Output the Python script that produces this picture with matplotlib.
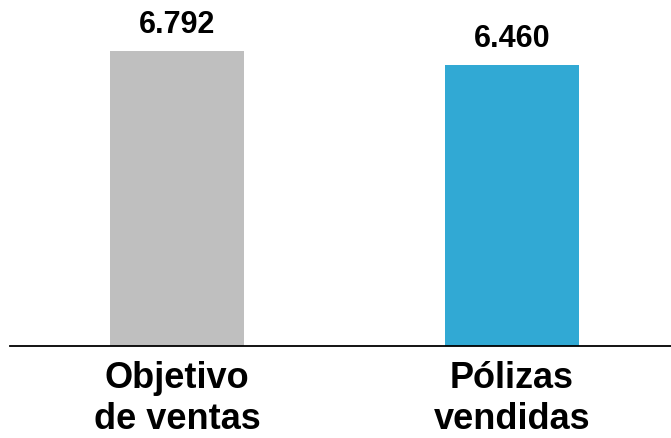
import matplotlib
matplotlib.use("Agg")
import matplotlib.pyplot as plt

categories = ["Objetivo\nde ventas", "Pólizas\nvendidas"]
values = [6792, 6460]
value_labels = ["6.792", "6.460"]
colors = ["#BFBFBF", "#31A9D4"]

plt.rcParams['font.family'] = ['Liberation Sans', 'DejaVu Sans']

fig = plt.figure(figsize=(6.71, 4.38), dpi=100)
ax = fig.add_axes([10 / 671, 92 / 438, 661 / 671, 346 / 438])

x = list(range(len(categories)))
ax.bar(x, values, width=0.4, color=colors)

for xi, v, lab in zip(x, values, value_labels):
    ax.annotate(lab, (xi, v), xytext=(0, 13), textcoords="offset points",
                ha="center", va="baseline", fontsize=22, fontweight="bold")

ax.set_xlim(-0.4985, 1.4746)
ax.set_ylim(0, 6792 * 346 / 295)

ax.set_xticks(x)
ax.set_xticklabels(categories, fontsize=26, fontweight="bold", linespacing=1.22)
ax.tick_params(axis="x", length=0, pad=11)
ax.set_yticks([])

for s in ["top", "right", "left"]:
    ax.spines[s].set_visible(False)
ax.spines["bottom"].set_linewidth(1.3)
ax.spines["bottom"].set_color("black")

fig.savefig("out.png", dpi=100)
